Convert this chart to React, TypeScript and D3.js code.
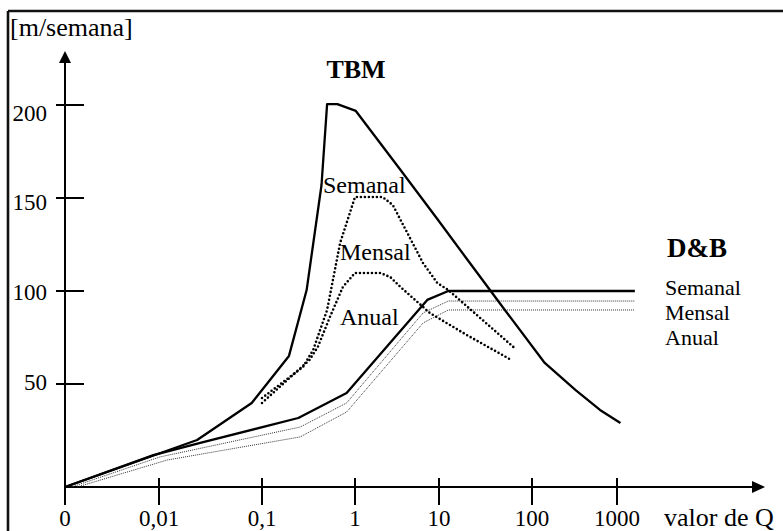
import React from "react";
import * as d3 from "d3";

// x positions are log10(Q); the "0" tick sits at -3
const X_TICKS = [-3, -2, -1, 0, 1, 2, 3];
const X_TICK_LABELS = ["0", "0,01", "0,1", "1", "10", "100", "1000"];
const Y_TICKS = [50, 100, 150, 200];
const Y_TICK_LABELS = ["50", "100", "150", "200"];

// TBM curves
const TBM_SEMANAL: [number, number][] = [
  [-3, 0], [-1.63, 22.8], [-1.1, 40.8], [-0.71, 65.1], [-0.52, 100.5], [-0.36, 157],
  [-0.3, 200.5], [-0.19, 200.5], [0.01, 196.8], [0.54, 165.2], [0.98, 138.7],
  [1.3, 117.2], [1.66, 93], [2.15, 61.3], [2.51, 47.1], [2.8, 37.4], [3.04, 31.1],
];
const TBM_MENSAL: [number, number][] = [
  [-1, 43.2], [-0.56, 59.1], [-0.45, 68.3], [-0.3, 89.8], [-0.16, 125.8], [0, 150.5],
  [0.33, 150.5], [0.45, 146.2], [0.81, 115], [0.98, 104.3], [1.1, 100.5], [1.8, 69.9],
];
const TBM_ANUAL: [number, number][] = [
  [-1, 40.8], [-0.49, 62.9], [-0.4, 69.9], [-0.27, 86], [-0.13, 102.2], [0, 109.7],
  [0.3, 109.7], [0.42, 107.5], [0.54, 102.2], [0.89, 88.2], [1.3, 76.3], [1.76, 63.4],
];

// D&B curves
const DB_SEMANAL: [number, number][] = [
  [-3, 0], [-2.06, 15.5], [-1.6, 21.4], [-0.61, 33.5], [-0.09, 45.6], [0.86, 95.2], [1.1, 100], [3.21, 100],
];
const DB_MENSAL: [number, number][] = [
  [-2.93, 0], [-1.99, 14.6], [-0.59, 29.1], [-0.09, 40.8], [0.81, 88.2], [1.1, 94.6], [3.21, 94.6],
];
const DB_ANUAL: [number, number][] = [
  [-2.87, 0], [-1.92, 13.1], [-0.59, 24.3], [-0.09, 36.4], [0.81, 82.8], [1.1, 89.8], [3.21, 89.8],
];

const W = 783;
const H = 531;
const FONT = "'Liberation Serif', 'Times New Roman', serif";

export default function App() {
  const x = d3.scaleLinear().domain(X_TICKS).range([65, 159, 262, 355, 439, 532, 617]);
  const y = d3.scaleLinear().domain([0, 50, 100, 150, 200]).range([487, 384, 291, 198, 105]);
  const yLabel = d3.scaleLinear().domain([50, 200]).range([382, 113]);
  const line = d3
    .line<[number, number]>()
    .x((d) => x(d[0]))
    .y((d) => y(d[1]));

  const x0 = x(-3);
  const y0 = y(0);

  const solid = { fill: "none", stroke: "#000", strokeWidth: 2.3, strokeLinejoin: "round" as const };
  const dotted = {
    fill: "none",
    stroke: "#000",
    strokeWidth: 2.6,
    strokeDasharray: "0 4",
    strokeLinecap: "round" as const,
  };
  const thin = { fill: "none", stroke: "#333", strokeWidth: 1, strokeDasharray: "1 1" };

  return (
    <svg
      width={W}
      height={H}
      style={{ position: "absolute", left: 0, top: 0, background: "#fff" }}
      fontFamily={FONT}
    >
      {/* frame */}
      <line x1={8} y1={11} x2={W} y2={11} stroke="#111" strokeWidth={2.6} />
      <line x1={8} y1={11} x2={8} y2={H} stroke="#111" strokeWidth={2.6} />

      <text x={10} y={36} fontSize={26}>[m/semana]</text>

      {/* y axis */}
      <line x1={x0} y1={y0 + 18} x2={x0} y2={58} stroke="#000" strokeWidth={2} />
      <path d={`M${x0},51 L${x0 - 6},63 L${x0 + 6},63 Z`} fill="#000" />
      {Y_TICKS.map((t, i) => (
        <g key={t}>
          <line x1={x0 - 9} x2={x0 + 19} y1={y(t)} y2={y(t)} stroke="#000" strokeWidth={2} />
          <text x={47} y={yLabel(t)} fontSize={23} textAnchor="end" dominantBaseline="central">
            {Y_TICK_LABELS[i]}
          </text>
        </g>
      ))}

      {/* x axis */}
      <line x1={x0} y1={y0} x2={756} y2={y0} stroke="#000" strokeWidth={2} />
      <path d={`M765,${y0} L752,${y0 - 6} L752,${y0 + 6} Z`} fill="#000" />
      {X_TICKS.map((t, i) => (
        <g key={t}>
          {i > 0 && <line x1={x(t)} x2={x(t)} y1={y0 - 9} y2={y0 + 18} stroke="#000" strokeWidth={2} />}
          <text x={x(t)} y={526} fontSize={23} textAnchor="middle">
            {X_TICK_LABELS[i]}
          </text>
        </g>
      ))}
      <text x={664} y={526} fontSize={26}>valor de Q</text>

      {/* D&B */}
      <path d={line(DB_ANUAL) || ""} {...thin} />
      <path d={line(DB_MENSAL) || ""} {...thin} />
      <path d={line(DB_SEMANAL) || ""} {...solid} />

      {/* TBM */}
      <path d={line(TBM_ANUAL) || ""} {...dotted} />
      <path d={line(TBM_MENSAL) || ""} {...dotted} />
      <path d={line(TBM_SEMANAL) || ""} {...solid} />

      {/* labels */}
      <text x={356} y={78} fontSize={26} fontWeight="bold" textAnchor="middle">TBM</text>
      <text x={323} y={193} fontSize={24}>Semanal</text>
      <text x={340} y={260} fontSize={24}>Mensal</text>
      <text x={340} y={325} fontSize={24}>Anual</text>

      <text x={667} y={257} fontSize={27} fontWeight="bold">D&amp;B</text>
      <text x={665} y={295} fontSize={22}>Semanal</text>
      <text x={665} y={320} fontSize={22}>Mensal</text>
      <text x={665} y={345} fontSize={22}>Anual</text>
    </svg>
  );
}
